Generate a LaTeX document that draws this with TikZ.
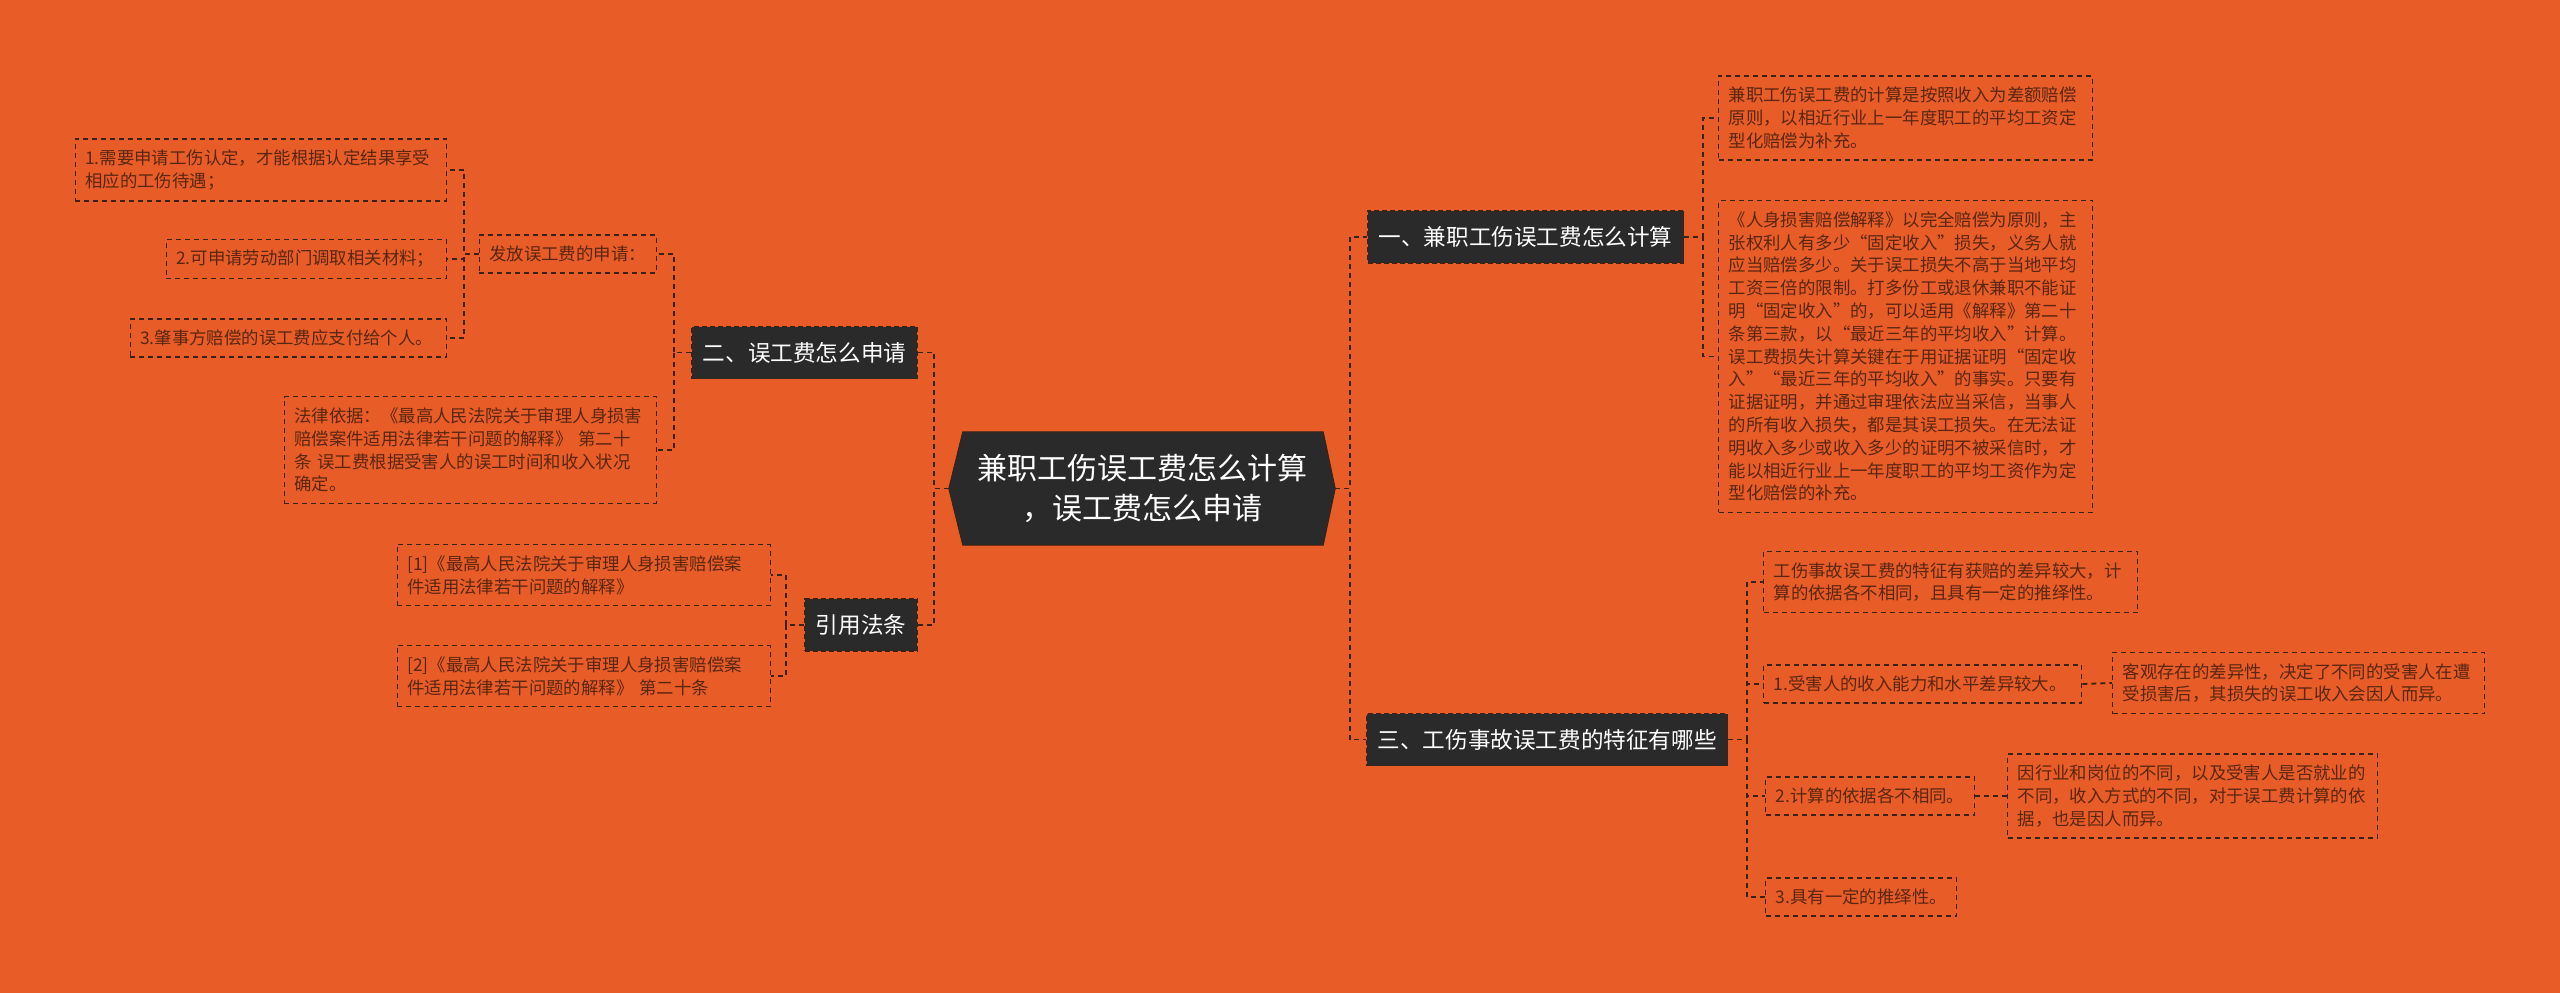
\documentclass[tikz,border=0pt]{standalone}
\usepackage{fontspec}
\setmainfont{Noto Sans CJK SC}
\usetikzlibrary{backgrounds}
\definecolor{bgc}{HTML}{E85D27}
\definecolor{darkbox}{HTML}{2A2A2A}
\definecolor{linec}{HTML}{3A2216}
\definecolor{leaftext}{HTML}{5A2610}
\tikzset{
  conn/.style={draw=linec, line width=1.8pt, dash pattern=on 5pt off 4pt},
  leaf/.style={draw=linec, line width=1.4pt, dash pattern=on 5pt off 4pt, text=leaftext,
    font=\fontsize{17.4}{22.8}\selectfont, align=left, inner xsep=10pt, inner ysep=11pt},
  branch/.style={fill=darkbox, draw=linec, line width=1.4pt, dash pattern=on 5pt off 3pt, text=white,
    font=\fontsize{22.6}{27}\selectfont, inner xsep=11pt, minimum height=52pt},
}
\begin{document}
\begin{tikzpicture}[x=1pt,y=-1pt]
\path[use as bounding box] (0,0) rectangle (2560,993);
% bus coordinates
\coordinate (spR) at (1350,0);
\coordinate (spL) at (934,0);
\coordinate (busA) at (1703,0);
\coordinate (busC) at (1747,0);
\coordinate (busE) at (674,0);
\coordinate (busG) at (464,0);
\coordinate (busR) at (786,0);

% root
\node[minimum width=386pt, minimum height=113pt, inner sep=0pt, text=white, align=center,
  font=\fontsize{30}{40}\selectfont] (root) at (1142,488.5) {兼职工伤误工费怎么计算\\，误工费怎么申请};
\begin{scope}[on background layer]
\fill[bgc] (0,0) rectangle (2560,993);
\filldraw[fill=darkbox, draw=linec, line width=1pt] (root.west) -- ([xshift=14pt]root.north west) -- ([xshift=-12pt]root.north east) -- (root.east) -- ([xshift=-12pt]root.south east) -- ([xshift=14pt]root.south west) -- cycle;
\end{scope}

% branches
\node[branch, anchor=west] (b1) at (1367,237) {一、兼职工伤误工费怎么计算};
\node[branch, anchor=west] (b3) at (1366,739.5) {三、工伤事故误工费的特征有哪些};
\node[branch, anchor=east] (b2) at (918,352.5) {二、误工费怎么申请};
\node[branch, anchor=east] (b4) at (918,625) {引用法条};

% right leaves
\node[leaf, anchor=west, text width=354pt] (a1) at (1718,118) {兼职工伤误工费的计算是按照收入为差额赔偿\\原则，以相近行业上一年度职工的平均工资定\\型化赔偿为补充。};
\node[leaf, anchor=west, text width=354pt] (a2) at (1718,356.5) {《人身损害赔偿解释》以完全赔偿为原则，主\\张权利人有多少“固定收入”损失，义务人就\\应当赔偿多少。关于误工损失不高于当地平均\\工资三倍的限制。打多份工或退休兼职不能证\\明“固定收入”的，可以适用《解释》第二十\\条第三款，以“最近三年的平均收入”计算。\\误工费损失计算关键在于用证据证明“固定收\\入”“最近三年的平均收入”的事实。只要有\\证据证明，并通过审理依法应当采信，当事人\\的所有收入损失，都是其误工损失。在无法证\\明收入多少或收入多少的证明不被采信时，才\\能以相近行业上一年度职工的平均工资作为定\\型化赔偿的补充。};

\node[leaf, anchor=west, text width=354pt] (c1) at (1763,582) {工伤事故误工费的特征有获赔的差异较大，计\\算的依据各不相同，且具有一定的推绎性。};
\node[leaf, anchor=west, text width=298pt] (c2) at (1763,684) {1.受害人的收入能力和水平差异较大。};
\node[leaf, anchor=west, text width=352pt] (d2) at (2112,683) {客观存在的差异性，决定了不同的受害人在遭\\受损害后，其损失的误工收入会因人而异。};
\node[leaf, anchor=west, text width=189pt] (c3) at (1765,796) {2.计算的依据各不相同。};
\node[leaf, anchor=west, text width=350pt] (d3) at (2007,796) {因行业和岗位的不同，以及受害人是否就业的\\不同，收入方式的不同，对于误工费计算的依\\据，也是因人而异。};
\node[leaf, anchor=west, text width=171pt] (c4) at (1765,897) {3.具有一定的推绎性。};

% left leaves
\node[leaf, anchor=east, text width=157pt] (e1) at (657,254) {发放误工费的申请：};
\node[leaf, anchor=east, text width=352pt] (e2) at (657,450) {法律依据：《最高人民法院关于审理人身损害\\赔偿案件适用法律若干问题的解释》 第二十\\条 误工费根据受害人的误工时间和收入状况\\确定。};
\node[leaf, anchor=east, text width=351pt] (g1) at (447,170) {1.需要申请工伤认定，才能根据认定结果享受\\相应的工伤待遇；};
\node[leaf, anchor=east, text width=260pt] (g2) at (447,259) {2.可申请劳动部门调取相关材料；};
\node[leaf, anchor=east, text width=296pt] (g3) at (447,338) {3.肇事方赔偿的误工费应支付给个人。};
\node[leaf, anchor=east, text width=353pt] (r1) at (771,575) {[1]《最高人民法院关于审理人身损害赔偿案\\件适用法律若干问题的解释》};
\node[leaf, anchor=east, text width=353pt] (r2) at (771,676) {[2]《最高人民法院关于审理人身损害赔偿案\\件适用法律若干问题的解释》 第二十条};

% connectors
\draw[conn] (root.east) -- (root.east -| spR) |- (b1.west);
\draw[conn] (root.east) -- (root.east -| spR) |- (b3.west);
\draw[conn] (root.west) -- (root.west -| spL) |- (b2.east);
\draw[conn] (root.west) -- (root.west -| spL) |- (b4.east);

\draw[conn] (b1.east) -- (b1.east -| busA) |- (a1.west);
\draw[conn] (b1.east) -- (b1.east -| busA) |- (a2.west);

\draw[conn] (b3.east) -- (b3.east -| busC) |- (c1.west);
\draw[conn] (b3.east) -- (b3.east -| busC) |- (c2.west);
\draw[conn] (b3.east) -- (b3.east -| busC) |- (c3.west);
\draw[conn] (b3.east) -- (b3.east -| busC) |- (c4.west);
\draw[conn] (c2.east) -- (d2.west);
\draw[conn] (c3.east) -- (d3.west);

\draw[conn] (b2.west) -- (b2.west -| busE) |- (e1.east);
\draw[conn] (b2.west) -- (b2.west -| busE) |- (e2.east);
\draw[conn] (e1.west) -- (e1.west -| busG) |- (g1.east);
\draw[conn] (e1.west) -- (e1.west -| busG) |- (g2.east);
\draw[conn] (e1.west) -- (e1.west -| busG) |- (g3.east);

\draw[conn] (b4.west) -- (b4.west -| busR) |- (r1.east);
\draw[conn] (b4.west) -- (b4.west -| busR) |- (r2.east);
\end{tikzpicture}
\end{document}
